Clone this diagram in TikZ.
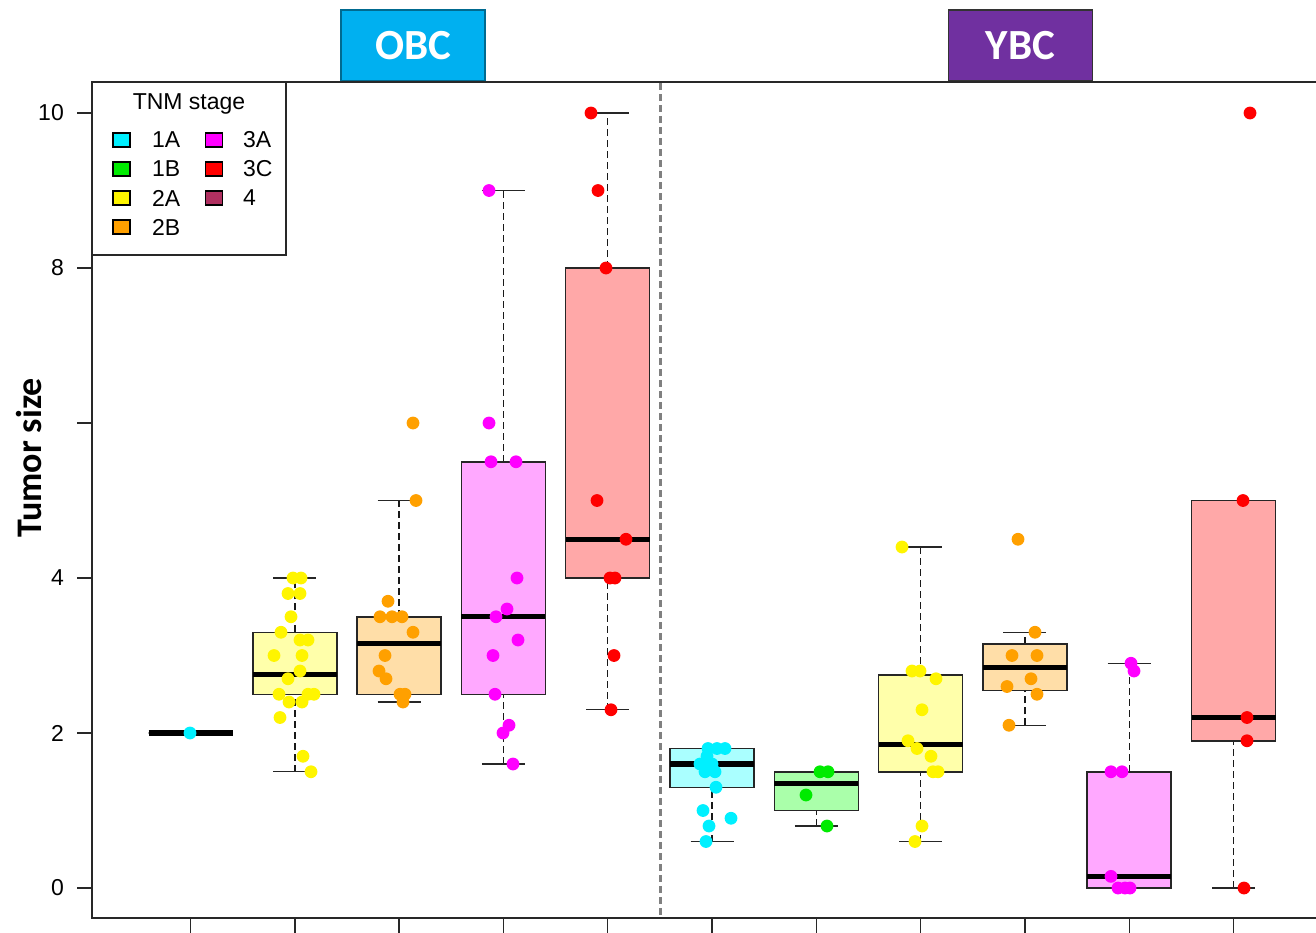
\documentclass[tikz,border=0pt]{standalone}
\usepackage{fontspec}
\setmainfont{Liberation Sans}
\newfontfamily\carlito{Carlito}
\definecolor{pA}{RGB}{0,240,255}
\definecolor{pB}{RGB}{0,235,0}
\definecolor{pC}{RGB}{255,245,0}
\definecolor{pD}{RGB}{255,160,0}
\definecolor{pE}{RGB}{255,0,255}
\definecolor{pF}{RGB}{255,0,0}
\definecolor{pG}{RGB}{176,48,96}
\definecolor{bA}{RGB}{170,255,255}
\definecolor{bB}{RGB}{170,255,170}
\definecolor{bC}{RGB}{255,255,170}
\definecolor{bD}{RGB}{255,222,168}
\definecolor{bE}{RGB}{255,168,255}
\definecolor{bF}{RGB}{255,168,168}
\definecolor{obcblue}{RGB}{0,176,240}
\definecolor{ybcpurple}{RGB}{112,48,160}
\definecolor{axisgray}{RGB}{40,40,40}
\newcommand\bplot[7]{%
  \draw[whisk] (#1,#5) -- (#1,#2);
  \draw[whisk] (#1,#4) -- (#1,#6);
  \draw[capline] ({#1-21.5},#5) -- ({#1+21.5},#5);
  \draw[capline] ({#1-21.5},#6) -- ({#1+21.5},#6);
  \draw[boxline,fill=#7] ({#1-42},#2) rectangle ({#1+42},#4);
  \draw[medline] ({#1-42},#3) -- ({#1+42},#3);
}
\begin{document}
\begin{tikzpicture}[x=1pt,y=-1pt,
  frame/.style={draw=axisgray,line width=1.4pt},
  whisk/.style={draw=black!90,line width=1.4pt,dash pattern=on 7pt off 4pt},
  capline/.style={draw=black!85,line width=1.4pt},
  boxline/.style={draw=black!85,line width=1.5pt},
  medline/.style={draw=black,line width=5.2pt},
  ticklab/.style={font=\fontsize{23}{23}\selectfont,anchor=east,inner sep=0pt},
  legtxt/.style={font=\fontsize{23}{23}\selectfont,anchor=west,inner sep=0pt},
  legsq/.style={draw=black,line width=1.4pt,minimum width=17pt,minimum height=14pt,inner sep=0pt},
  groupbox/.style={minimum width=144pt,minimum height=71pt,inner sep=0pt,text=white,font=\carlito\bfseries\fontsize{43}{43}\selectfont}
]
\useasboundingbox (0,0) rectangle (1316,932);
\fill[white] (0,0) rectangle (1316,932);
% group labels
\node[groupbox,fill=obcblue,draw=obcblue!60!black,line width=1.5pt] (obc) at (413,45.5) {\raisebox{-2pt}{OBC}};
\node[groupbox,fill=ybcpurple,draw=black!80,line width=1.8pt] (ybc) at (1020.5,45.5) {\raisebox{-2pt}{YBC}};
% y label
\node[rotate=90,font=\carlito\bfseries\fontsize{36}{36}\selectfont,inner sep=0pt] (ylab) at (29,458) {Tumor size};
% separator
\draw[draw=gray,line width=2.4pt,dash pattern=on 7pt off 4pt] (660.5,83) -- (660.5,917);
% x ticks
\foreach \i in {0,...,10} \draw[frame] ({190.5+104.3*\i},918) -- ++(0,20);
\begin{scope}[yshift=-888pt,y=77.5pt]
  \foreach \v in {0,2,4,6,8,10} \draw[frame] (77,\v) -- (92,\v);
  \foreach \v in {0,2,4,8,10} \node[ticklab] (yt\v) at (64,\v) {\v};
  % boxes
  \bplot{190.5}{2}{2}{2}{2}{2}{bA}
  \bplot{294.8}{2.5}{2.75}{3.3}{1.5}{4.0}{bC}
  \bplot{399.1}{2.5}{3.15}{3.5}{2.4}{5.0}{bD}
  \bplot{503.4}{2.5}{3.5}{5.5}{1.6}{9.0}{bE}
  \bplot{607.7}{4.0}{4.5}{8.0}{2.3}{10}{bF}
  \bplot{712}{1.3}{1.6}{1.8}{0.6}{1.8}{bA}
  \bplot{816.3}{1.0}{1.35}{1.5}{0.8}{1.5}{bB}
  \bplot{920.6}{1.5}{1.85}{2.75}{0.6}{4.4}{bC}
  \bplot{1024.9}{2.55}{2.85}{3.15}{2.1}{3.3}{bD}
  \bplot{1129.2}{0}{0.15}{1.5}{0}{2.9}{bE}
  \bplot{1233.5}{1.9}{2.2}{5.0}{0}{5.0}{bF}
  % points
  \foreach \px/\v in {190/2, 708/1.8, 717/1.8, 725/1.8, 707/1.7, 700/1.6, 712/1.6, 705/1.5, 715/1.5, 716/1.3, 703/1.0, 731/0.9, 709/0.8, 706/0.6}
    \fill[pA] (\px,\v) circle[radius=6.4pt];
  \foreach \px/\v in {820/1.5, 828/1.5, 806/1.2, 827/0.8}
    \fill[pB] (\px,\v) circle[radius=6.4pt];
  \foreach \px/\v in {293/4, 301/4, 288/3.8, 300/3.8, 291/3.5, 281/3.3, 300/3.2, 308/3.2, 274/3.0, 302/3.0, 300/2.8, 288/2.7, 279/2.5, 308/2.5, 314/2.5, 289/2.4, 302/2.4, 280/2.2, 303/1.7, 311/1.5, 902/4.4, 912/2.8, 920/2.8, 936/2.7, 922/2.3, 908/1.9, 917/1.8, 931/1.7, 933/1.5, 938/1.5, 922/0.8, 915/0.6}
    \fill[pC] (\px,\v) circle[radius=6.4pt];
  \foreach \px/\v in {413/6, 416/5, 388/3.7, 380/3.5, 392/3.5, 402/3.5, 413/3.3, 385/3.0, 379/2.8, 386/2.7, 400/2.5, 405/2.5, 403/2.4, 1018/4.5, 1035/3.3, 1012/3.0, 1037/3.0, 1031/2.7, 1007/2.6, 1037/2.5, 1009/2.1}
    \fill[pD] (\px,\v) circle[radius=6.4pt];
  \foreach \px/\v in {489/9, 489/6, 491/5.5, 516/5.5, 517/4, 507/3.6, 496/3.5, 518/3.2, 493/3.0, 495/2.5, 509/2.1, 503/2.0, 513/1.6, 1131/2.9, 1134/2.8, 1111/1.5, 1122/1.5, 1111/0.15, 1118/0, 1125/0, 1130/0}
    \fill[pE] (\px,\v) circle[radius=6.4pt];
  \foreach \px/\v in {591/10, 598/9, 606/8, 597/5, 626/4.5, 610/4, 615/4, 614/3, 611/2.3, 1250/10, 1243/5, 1247/2.2, 1247/1.9, 1244/0}
    \fill[pF] (\px,\v) circle[radius=6.4pt];
\end{scope}
% frame
\draw[frame] (1320,82) -- (92,82) -- (92,918) -- (1320,918);
% legend
\draw[frame,fill=white] (92,82) rectangle (286,255);
\node[font=\fontsize{23}{23}\selectfont,inner sep=0pt] (legtitle) at (189,104) {TNM stage};
\node[legsq,fill=pA] (sqA) at (121.5,140) {}; \node[legtxt] (lA) at (152,140) {1A};
\node[legsq,fill=pB] (sqB) at (121.5,169) {}; \node[legtxt] (lB) at (152,169) {1B};
\node[legsq,fill=pC] (sqC) at (121.5,198) {}; \node[legtxt] (lC) at (152,198) {2A};
\node[legsq,fill=pD] (sqD) at (121.5,227) {}; \node[legtxt] (lD) at (152,227) {2B};
\node[legsq,fill=pE] (sqE) at (214,140) {}; \node[legtxt] (lE) at (243,140) {3A};
\node[legsq,fill=pF] (sqF) at (214,169) {}; \node[legtxt] (lF) at (243,169) {3C};
\node[legsq,fill=pG] (sqG) at (214,198) {}; \node[legtxt] (lG) at (243,198) {4};
\end{tikzpicture}
\end{document}
